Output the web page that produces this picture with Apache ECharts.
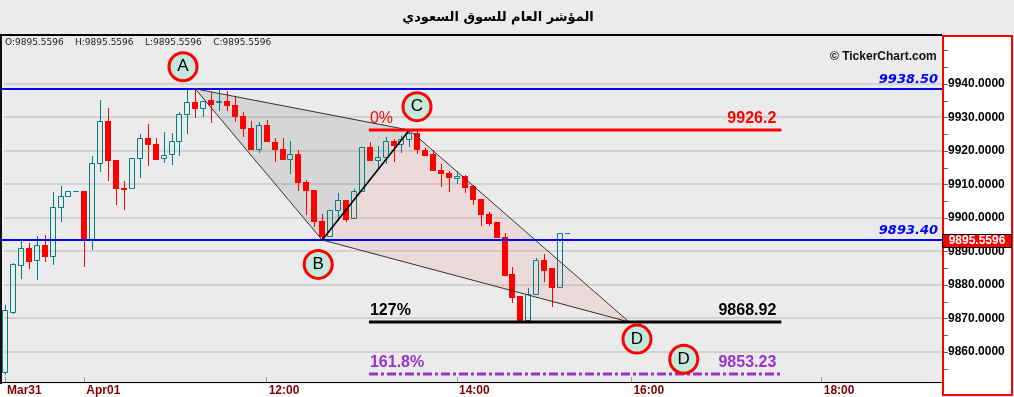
<!DOCTYPE html>
<html><head><meta charset="utf-8">
<script src="https://cdn.jsdelivr.net/npm/echarts@6/dist/echarts.min.js"></script>
<style>html,body{margin:0;padding:0;background:#ebebeb}#c{width:1014px;height:397px}</style>
</head><body><div id="c"></div>
<script>
// ---- data (5-minute candles, index = slot on the time axis) ----
const opens  = [9854.1,9871.9,9886.0,9891.1,9887.5,9892.0,9888.7,9903.3,9906.6,9908.1,
                9908.1,9893.3,9916.4,9928.9,9917.4,9909.0,9908.8,9917.9,9923.8,9922.1,
                9917.9,9919.1,9922.8,9931.0,9934.6,9932.9,9935.2,9934.6,9934.9,9933.7,
                9930.5,9926.9,9920.7,9927.7,9922.7,9920.6,9917.6,9919.1,9910.8,9908.4,
                9899.2,9894.5,9902.3,9905.2,9899.9,9908.0,9921.2,9917.2,9918.2,9923.0,
                9922.1,9923.6,9925.3,9920.4,9919.2,9914.3,9913.5,9911.9,9912.6,9909.4,
                9905.7,9901.2,9898.7,9894.4,9883.1,9876.7,9869.4,9877.2,9887.3,9884.9,
                9879.4];
const closes = [9872.4,9886.1,9891.1,9887.1,9892.0,9888.6,9903.3,9906.6,9908.1,9908.1,
                9893.3,9916.4,9928.9,9917.2,9908.8,9908.5,9917.9,9923.8,9921.9,9917.5,
                9918.8,9922.9,9931.0,9934.6,9932.9,9935.0,9934.1,9934.8,9933.8,9930.3,
                9926.7,9920.7,9927.7,9922.9,9920.6,9917.6,9919.1,9910.8,9908.2,9899.0,
                9894.5,9902.4,9905.2,9899.7,9908.1,9921.2,9917.2,9918.2,9923.0,9921.8,
                9923.5,9925.3,9920.6,9918.9,9914.2,9913.3,9912.1,9912.6,9909.1,9905.5,
                9901.0,9898.5,9894.2,9882.8,9876.4,9869.3,9877.4,9887.3,9884.4,9879.4,
                9895.5596];
const lows   = [9853.3,9871.6,9881.9,9884.9,9881.7,9887.1,9886.2,9899.0,9906.6,9908.1,
                9885.6,9890.8,9913.9,9911.4,9904.0,9902.5,9908.8,9912.3,9915.9,9917.5,
                9916.6,9916.0,9918.7,9925.3,9930.0,9930.3,9928.7,9932.3,9932.3,9928.8,
                9924.3,9920.7,9919.8,9922.9,9917.1,9917.6,9913.4,9908.4,9901.0,9897.5,
                9893.4,9894.5,9899.5,9899.0,9899.9,9908.0,9917.2,9914.6,9916.4,9916.9,
                9919.7,9921.3,9919.4,9918.7,9914.2,9909.4,9908.1,9910.4,9907.6,9904.2,
                9898.0,9898.0,9894.2,9882.8,9875.0,9869.0,9869.4,9877.2,9881.1,9873.7,
                9879.4];
const highs  = [9873.9,9886.6,9893.4,9892.6,9894.7,9895.0,9907.8,9909.5,9908.1,9908.1,
                9908.1,9918.6,9935.2,9932.8,9917.4,9911.1,9917.9,9925.1,9928.1,9923.8,
                9925.7,9925.4,9931.5,9938.4,9938.5,9935.0,9937.5,9938.2,9937.9,9936.2,
                9931.6,9929.0,9928.5,9929.3,9923.9,9923.9,9923.0,9920.4,9911.4,9908.4,
                9901.2,9902.4,9907.3,9905.2,9908.7,9921.2,9922.5,9921.5,9924.0,9923.6,
                9924.5,9926.2,9926.2,9920.9,9920.4,9916.1,9914.1,9913.9,9912.9,9909.7,
                9905.7,9901.7,9898.7,9895.6,9885.3,9876.7,9879.2,9887.9,9889.1,9884.9,
                9895.5596];
const lastPrice = 9895.5596;

const xTickIndex  = [0, 10, 33, 57, 79, 103];
const xTickLabels = ['Mar31', 'Apr01', '12:00', '14:00', '16:00', '18:00'];
const yLabelValues = [9860, 9870, 9880, 9890, 9900, 9910, 9920, 9930, 9940];
const yTickValues  = [9855, 9860, 9865, 9870, 9875, 9880, 9885, 9890, 9895, 9900, 9905,
                      9910, 9915, 9920, 9925, 9930, 9935, 9940, 9945, 9950];

const blueLevels = [9938.5, 9893.4];
const blueLabels = ['9938.50', '9893.40'];

const patternX = [24, 40, 51, 78.7];
const patternY = [9938.5, 9893.4, 9926.2, 9868.92];
const triangles = [[0, 1, 2], [1, 2, 3]];
const edges = [[0, 1], [0, 2], [1, 2], [1, 3], [2, 3]];

const fibLevels = [9926.2, 9868.92, 9853.23];
const fibPercents = ['0%', '127%', '161.8%'];
const fibValueLabels = ['9926.2', '9868.92', '9853.23'];
const fibRange = [45.9, 97.9];

const markerNames = ['A', 'B', 'C', 'D', 'D'];
const markerX = [22.45, 39.5, 51.96, 79.7, 85.6];
const markerY = [9945.1, 9886.1, 9933.2, 9863.8, 9857.8];

const titleText = 'المؤشر العام للسوق السعودي';
const ohlcText = 'O:9895.5596    H:9895.5596    L:9895.5596    C:9895.5596';

// ---- chart ----
const chart = echarts.init(document.getElementById('c'), null, {renderer: 'canvas'});

const candleData = opens.map((o, i) => [i, o, closes[i], lows[i], highs[i]]);

function renderCandle(params, api) {
  const i = api.value(0), o = api.value(1), c = api.value(2), l = api.value(3), h = api.value(4);
  const cx = Math.round(api.coord([i, o])[0]);
  const yo = Math.round(api.coord([i, o])[1]);
  const yc = Math.round(api.coord([i, c])[1]);
  const yl = Math.round(api.coord([i, l])[1]);
  const yh = Math.round(api.coord([i, h])[1]);
  const up = c >= o;
  const col = up ? '#008080' : '#ff0000';
  const top = Math.min(yo, yc), bot = Math.max(yo, yc);
  const wx = cx + 0.5;
  const ch = [];
  if (yh < top) ch.push({type: 'line', shape: {x1: wx, y1: yh, x2: wx, y2: top}, style: {stroke: col, lineWidth: 1}});
  if (yl > bot) ch.push({type: 'line', shape: {x1: wx, y1: bot + 1, x2: wx, y2: yl + 1}, style: {stroke: col, lineWidth: 1}});
  if (up) {
    ch.push({type: 'rect', shape: {x: cx - 2.5, y: top + 0.5, width: 5, height: bot - top}, style: {fill: null, stroke: col, lineWidth: 1}});
  } else {
    ch.push({type: 'rect', shape: {x: cx - 3, y: top, width: 6, height: bot - top + 1}, style: {fill: col}});
  }
  if (params.dataIndex === opens.length - 1) {
    ch.push({type: 'line', shape: {x1: cx + 5, y1: yc + 0.5, x2: cx + 10, y2: yc + 0.5}, style: {stroke: col, lineWidth: 1}});
  }
  return {type: 'group', children: ch};
}

const option = {
  animation: false,
  backgroundColor: '#ebebeb',
  grid: {left: 2, top: 37, width: 940, height: 346, containLabel: false},
  xAxis: {
    type: 'value', min: -0.378, max: 118.17, z: 10,
    splitLine: {show: false},
    axisLine: {show: true, onZero: false, lineStyle: {color: '#000', width: 1}},
    axisTick: {show: true, customValues: xTickIndex, inside: true, length: 5, lineStyle: {color: '#999'}},
    axisLabel: {
      customValues: xTickIndex,
      formatter: v => { const k = xTickIndex.indexOf(v); return k >= 0 ? xTickLabels[k] : ''; },
      align: 'left', margin: 3, padding: [0, 0, 0, 2],
      fontFamily: 'Liberation Sans', fontWeight: 'bold', fontSize: 12, color: '#800000'
    }
  },
  yAxis: {
    type: 'value', position: 'right', min: 9850.99, max: 9953.99, z: 10,
    splitLine: {show: false},
    axisLine: {show: false},
    axisTick: {show: false},
    axisLabel: {
      customValues: yLabelValues,
      formatter: v => v.toFixed(4),
      margin: 6, fontFamily: 'Liberation Sans', fontWeight: 'bold', fontSize: 12, color: '#000'
    }
  },
  graphic: [
    {type: 'text', x: 498, y: 18, z: 5,
     style: {text: titleText, fill: '#000', font: 'bold 13px "DejaVu Sans"', textAlign: 'center', textVerticalAlign: 'middle'}},
    {type: 'text', x: 5, y: 43, z: 5,
     style: {text: ohlcText, fill: '#222', font: '9px "DejaVu Sans"', textAlign: 'left', textVerticalAlign: 'middle'}},
    {type: 'text', x: 830, y: 57, z: 5,
     style: {text: '© TickerChart.com', fill: '#111', font: 'bold 12px "Liberation Sans"', textAlign: 'left', textVerticalAlign: 'middle'}},
    {type: 'rect', z: 6, shape: {x: 0, y: 384, width: 942, height: 13}, style: {fill: '#fff'}},
    {type: 'rect', z: 6, shape: {x: 943, y: 36, width: 69, height: 359}, style: {fill: '#fff', stroke: '#ff0000', lineWidth: 2}},
    {type: 'line', z: 6, shape: {x1: 0, y1: 35, x2: 942, y2: 35}, style: {stroke: '#000', lineWidth: 2}},
    {type: 'line', z: 6, shape: {x1: 1, y1: 35, x2: 1, y2: 384}, style: {stroke: '#111', lineWidth: 2}}
  ],
  series: [
    { // horizontal gridlines
      type: 'custom', z: 1, silent: true,
      data: yLabelValues.map(v => [0, v]),
      renderItem: (params, api) => {
        const cs = params.coordSys;
        const y = Math.round(api.coord([0, api.value(1)])[1]);
        return {type: 'line', shape: {x1: cs.x + 2, y1: y, x2: cs.x + cs.width, y2: y}, style: {stroke: '#d2d2d2', lineWidth: 2}};
      }
    },
    { // value-axis ticks (in the right panel)
      type: 'custom', z: 20, silent: true, clip: false,
      data: yTickValues.map(v => [0, v]),
      renderItem: (params, api) => {
        const cs = params.coordSys;
        const y = Math.round(api.coord([0, api.value(1)])[1]) + 0.5;
        const x0 = cs.x + cs.width + 2;
        return {type: 'line', shape: {x1: x0, y1: y, x2: x0 + 4, y2: y}, style: {stroke: '#666', lineWidth: 1}};
      }
    },
    { // pattern triangles
      type: 'custom', z: 2, silent: true,
      data: triangles.map((t, k) => [k, 0]),
      renderItem: (params, api) => {
        const t = triangles[params.dataIndex];
        const pts = t.map(j => api.coord([patternX[j], patternY[j]]));
        const fills = ['rgba(0,0,0,0.085)', 'rgba(255,0,0,0.07)'];
        return {type: 'polygon', shape: {points: pts}, style: {fill: fills[params.dataIndex]}};
      }
    },
    { // candles
      type: 'custom', z: 3, silent: true,
      data: candleData,
      encode: {x: 0, y: [1, 2, 3, 4]},
      renderItem: renderCandle
    },
    { // blue horizontal levels
      type: 'custom', z: 4, silent: true,
      data: blueLevels.map(v => [0, v]),
      renderItem: (params, api) => {
        const cs = params.coordSys;
        const y = api.coord([0, api.value(1)])[1];
        return {type: 'group', children: [
          {type: 'line', shape: {x1: cs.x, y1: y, x2: cs.x + cs.width, y2: y}, style: {stroke: '#0000ff', lineWidth: 2}},
          {type: 'text', x: cs.x + cs.width - 4, y: y - 3,
           style: {text: blueLabels[params.dataIndex], fill: '#0000ff', font: 'italic bold 13px "DejaVu Sans"', textAlign: 'right', textVerticalAlign: 'bottom'}}
        ]};
      }
    },
    { // pattern edges
      type: 'custom', z: 5, silent: true,
      data: edges.map((e, k) => [k, 0]),
      renderItem: (params, api) => {
        const e = edges[params.dataIndex];
        const p1 = api.coord([patternX[e[0]], patternY[e[0]]]);
        const p2 = api.coord([patternX[e[1]], patternY[e[1]]]);
        const strong = params.dataIndex === 2;
        return {type: 'line', shape: {x1: p1[0], y1: p1[1], x2: p2[0], y2: p2[1]},
                style: {stroke: strong ? '#000' : '#333', lineWidth: strong ? 1.6 : 1}};
      }
    },
    { // fibonacci projection levels
      type: 'custom', z: 6, silent: true,
      data: fibLevels.map(v => [0, v]),
      renderItem: (params, api) => {
        const k = params.dataIndex;
        const v = api.value(1);
        const a = api.coord([fibRange[0], v]);
        const b = api.coord([fibRange[1], v]);
        const y = Math.round(a[1]);
        const colors = ['#ff0000', '#000000', '#9932cc'];
        const dashes = [null, null, [9, 3, 3, 3]];
        const weights = ['normal', 'bold', 'bold'];
        return {type: 'group', children: [
          {type: 'line', shape: {x1: a[0], y1: y, x2: b[0], y2: y},
           style: {stroke: colors[k], lineWidth: 3, lineDash: dashes[k]}},
          {type: 'text', x: a[0] + 1, y: y - 3,
           style: {text: fibPercents[k], fill: colors[k], font: weights[k] + ' 16px "Liberation Sans"', textAlign: 'left', textVerticalAlign: 'bottom'}},
          {type: 'text', x: b[0] - 5, y: y - 3,
           style: {text: fibValueLabels[k], fill: colors[k], font: 'bold 16px "Liberation Sans"', textAlign: 'right', textVerticalAlign: 'bottom'}}
        ]};
      }
    },
    { // point markers
      type: 'scatter', z: 7, silent: true,
      symbol: 'circle', symbolSize: 28,
      itemStyle: {color: '#c4e8dc', borderColor: '#ff0000', borderWidth: 3, opacity: 1},
      label: {show: true, position: 'inside', formatter: p => p.data[2], color: '#000', fontSize: 17, fontFamily: 'Liberation Sans'},
      data: markerX.map((x, i) => [x, markerY[i], markerNames[i]])
    },
    { // last price tag on the value axis
      type: 'custom', z: 20, silent: true, clip: false,
      data: [[opens.length - 1, lastPrice]],
      renderItem: (params, api) => {
        const cs = params.coordSys;
        const y = Math.round(api.coord([api.value(0), api.value(1)])[1]);
        const x0 = cs.x + cs.width;
        return {type: 'group', children: [
          {type: 'rect', shape: {x: x0 + 0.5, y: y + 1.5, width: 69, height: 13}, style: {fill: '#ff0000', stroke: '#000', lineWidth: 1}},
          {type: 'text', x: x0 + 35, y: y + 8,
           style: {text: lastPrice.toFixed(4), fill: '#fff', font: 'bold 12px "Liberation Sans"', textAlign: 'center', textVerticalAlign: 'middle'}}
        ]};
      }
    }
  ]
};
chart.setOption(option);
</script></body></html>
